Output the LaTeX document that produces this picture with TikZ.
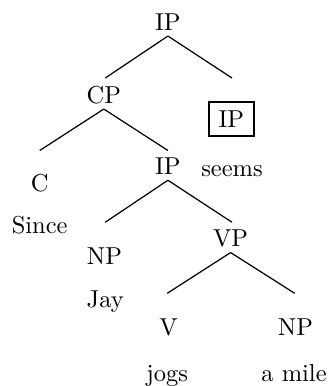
\documentclass[tikz,border=0pt]{standalone}
\usepackage{tikz}
\tikzset{
    cat/.style={
        anchor=base,
        inner sep=2pt
    },
    word/.style={
        anchor=base,
        inner sep=2pt
    },
    boxed/.style={
        anchor=base,
        draw,
        line width=0.8pt,
        inner xsep=4pt,
        inner ysep=3.4pt
    },
    branch/.style={
        line width=0.5pt
    }
}

\begin{document}
\begin{tikzpicture}

    \useasboundingbox (0,0) rectangle (4.75,5.54);

    % Categorias
    \node[cat]   (ip0) at (2.41,5.10) {IP};
    \node[cat]   (cp)  at (1.49,4.06) {CP};
    \node[boxed] (ipb) at (3.32,3.71) {IP};
    \node[cat]   (ip1) at (2.41,3.03) {IP};
    \node[cat]   (c)   at (0.57,2.79) {C};
    \node[cat]   (np1) at (1.50,1.74) {NP};
    \node[cat]   (vp)  at (3.31,2.00) {VP};
    \node[cat]   (v)   at (2.42,0.73) {V};
    \node[cat]   (np2) at (4.24,0.73) {NP};

    % Palabras
    \node[word] (seems) at (3.33,3.00) {seems};
    \node[word] (since) at (0.57,2.19) {Since};
    \node[word] (jay)   at (1.51,1.12) {Jay};
    \node[word] (jogs)  at (2.40,0.07) {jogs};
    \node[word] (mile)  at (4.22,0.07) {a mile};

    % Extremos de las ramas
    \coordinate (ip0-l) at (1.51,4.42);
    \coordinate (ip0-r) at (3.33,4.42);
    \coordinate (cp-l)  at (0.57,3.38);
    \coordinate (cp-r)  at (2.41,3.38);
    \coordinate (ip1-l) at (1.51,2.35);
    \coordinate (ip1-r) at (3.33,2.35);
    \coordinate (vp-l)  at (2.40,1.33);
    \coordinate (vp-r)  at (4.23,1.33);

    % Ramas
    \path[branch]

        (ip0.south) edge (ip0-l)
        (ip0.south) edge (ip0-r)

        (cp.south)  edge (cp-l)
        (cp.south)  edge (cp-r)

        (ip1.south) edge (ip1-l)
        (ip1.south) edge (ip1-r)

        (vp.south)  edge (vp-l)
        (vp.south)  edge (vp-r);

\end{tikzpicture}
\end{document}
